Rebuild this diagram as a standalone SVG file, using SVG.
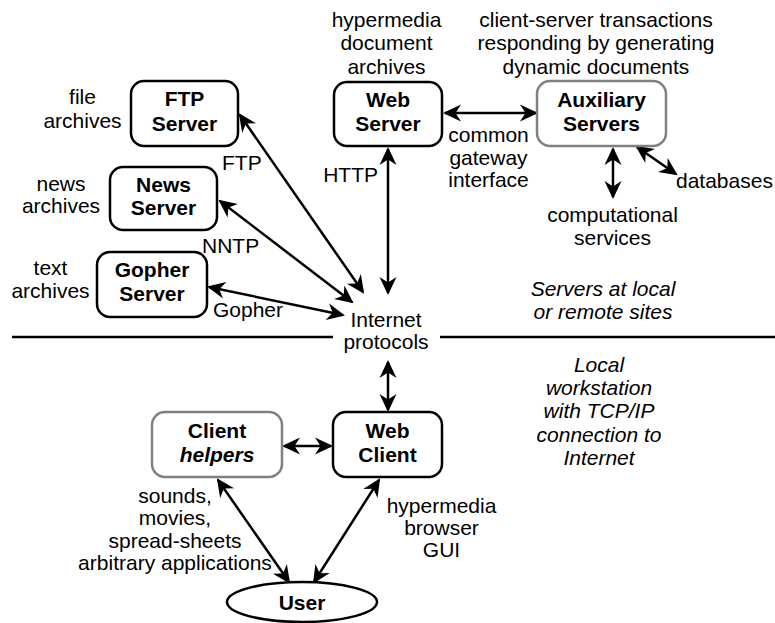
<svg xmlns="http://www.w3.org/2000/svg" width="775" height="623" viewBox="0 0 775 623">
<style>
text{font-family:"Liberation Sans",Arial,Helvetica,sans-serif;font-size:21px;fill:#000}
.c{text-anchor:middle}
.b{font-weight:bold}
.i{font-style:italic}
.box{fill:#fff;stroke:#000;stroke-width:2.5}
.gbox{fill:#fff;stroke:#808080;stroke-width:2.5}
.ln{stroke:#000;stroke-width:2.5;fill:none;marker-start:url(#ah);marker-end:url(#ah)}
.div{stroke:#000;stroke-width:2.5}
</style>
<defs>
<marker id="ah" markerUnits="userSpaceOnUse" viewBox="-17 -10 20 20" refX="0" refY="0" markerWidth="20" markerHeight="20" orient="auto-start-reverse">
<path d="M2,0 L-16,-8.5 L-10.5,0 L-16,8.5 Z" fill="#000"/>
</marker>
</defs>
<rect width="775" height="623" fill="#fff"/>
<g id="dividers">
<line class="div" x1="12" y1="337" x2="333" y2="337"/>
<line class="div" x1="440" y1="337" x2="775" y2="337"/>
</g>
<g id="connectors">
<line class="ln" x1="240" y1="115" x2="363" y2="292"/>
<line class="ln" x1="220" y1="201" x2="352" y2="302"/>
<line class="ln" x1="209" y1="287" x2="343" y2="315"/>
<line class="ln" x1="388" y1="149" x2="388" y2="293"/>
<line class="ln" x1="445" y1="113" x2="536" y2="113"/>
<line class="ln" x1="613" y1="149" x2="613" y2="197"/>
<line class="ln" x1="637" y1="147" x2="676" y2="174"/>
<line class="ln" x1="388" y1="362" x2="388" y2="410"/>
<line class="ln" x1="284" y1="446" x2="331" y2="446"/>
<line class="ln" x1="218" y1="480" x2="289" y2="582"/>
<line class="ln" x1="379" y1="480" x2="314" y2="582"/>
</g>
<g id="ftp-server">
<rect class="box" x="131" y="81" width="107" height="65" rx="13"/>
<text class="c b" x="184.5" y="106">FTP</text>
<text class="c b" x="184.5" y="131">Server</text>
</g>
<g id="news-server">
<rect class="box" x="110" y="167" width="107" height="63" rx="13"/>
<text class="c b" x="163.5" y="192">News</text>
<text class="c b" x="163.5" y="215">Server</text>
</g>
<g id="gopher-server">
<rect class="box" x="97" y="252" width="110" height="65" rx="13"/>
<text class="c b" x="152" y="277">Gopher</text>
<text class="c b" x="152" y="300.5">Server</text>
</g>
<g id="web-server">
<rect class="box" x="334" y="82" width="108" height="64" rx="13"/>
<text class="c b" x="388" y="107">Web</text>
<text class="c b" x="388" y="131">Server</text>
</g>
<g id="auxiliary-servers">
<rect class="gbox" x="537" y="81" width="129" height="65" rx="13"/>
<text class="c b" x="601.5" y="107">Auxiliary</text>
<text class="c b" x="601.5" y="131">Servers</text>
</g>
<g id="client-helpers">
<rect class="gbox" x="152" y="412" width="130" height="65" rx="13"/>
<text class="c b" x="217" y="438">Client</text>
<text class="c b i" x="217" y="462">helpers</text>
</g>
<g id="web-client">
<rect class="box" x="333" y="412" width="109" height="65" rx="13"/>
<text class="c b" x="387.5" y="438">Web</text>
<text class="c b" x="387.5" y="462">Client</text>
</g>
<g id="user">
<ellipse class="box" cx="302" cy="602" rx="75" ry="20"/>
<text class="c b" x="302" y="610">User</text>
</g>
<g id="labels">
<text class="c" x="82.5" y="104">file</text>
<text class="c" x="82.5" y="128">archives</text>
<text class="c" x="61" y="191">news</text>
<text class="c" x="61" y="213">archives</text>
<text class="c" x="50.5" y="275">text</text>
<text class="c" x="50.5" y="298">archives</text>
<text x="222" y="170">FTP</text>
<text x="378" y="182" text-anchor="end">HTTP</text>
<text x="202" y="253">NNTP</text>
<text x="213" y="317">Gopher</text>
<text class="c" x="386.5" y="27">hypermedia</text>
<text class="c" x="386.5" y="50">document</text>
<text class="c" x="386.5" y="74">archives</text>
<text class="c" x="596" y="27">client-server transactions</text>
<text class="c" x="596" y="50">responding by generating</text>
<text class="c" x="596" y="74">dynamic documents</text>
<text class="c" x="488.5" y="142">common</text>
<text class="c" x="488.5" y="164.5">gateway</text>
<text class="c" x="488.5" y="187">interface</text>
<text x="676" y="188">databases</text>
<text class="c" x="612.5" y="221.5">computational</text>
<text class="c" x="612.5" y="244.5">services</text>
<text class="c i" x="603" y="295.5">Servers at local</text>
<text class="c i" x="603" y="319">or remote sites</text>
<text class="c" x="386" y="327">Internet</text>
<text class="c" x="386" y="349">protocols</text>
<text class="c i" x="599" y="371.5">Local</text>
<text class="c i" x="599" y="395">workstation</text>
<text class="c i" x="599" y="418.3">with TCP/IP</text>
<text class="c i" x="599" y="441.7">connection to</text>
<text class="c i" x="599" y="465">Internet</text>
<text class="c" x="175" y="502.5">sounds,</text>
<text class="c" x="175" y="525">movies,</text>
<text class="c" x="175" y="547.5">spread-sheets</text>
<text class="c" x="175" y="570">arbitrary applications</text>
<text class="c" x="441.5" y="513">hypermedia</text>
<text class="c" x="441.5" y="535">browser</text>
<text class="c" x="441.5" y="557">GUI</text>
</g>
</svg>
